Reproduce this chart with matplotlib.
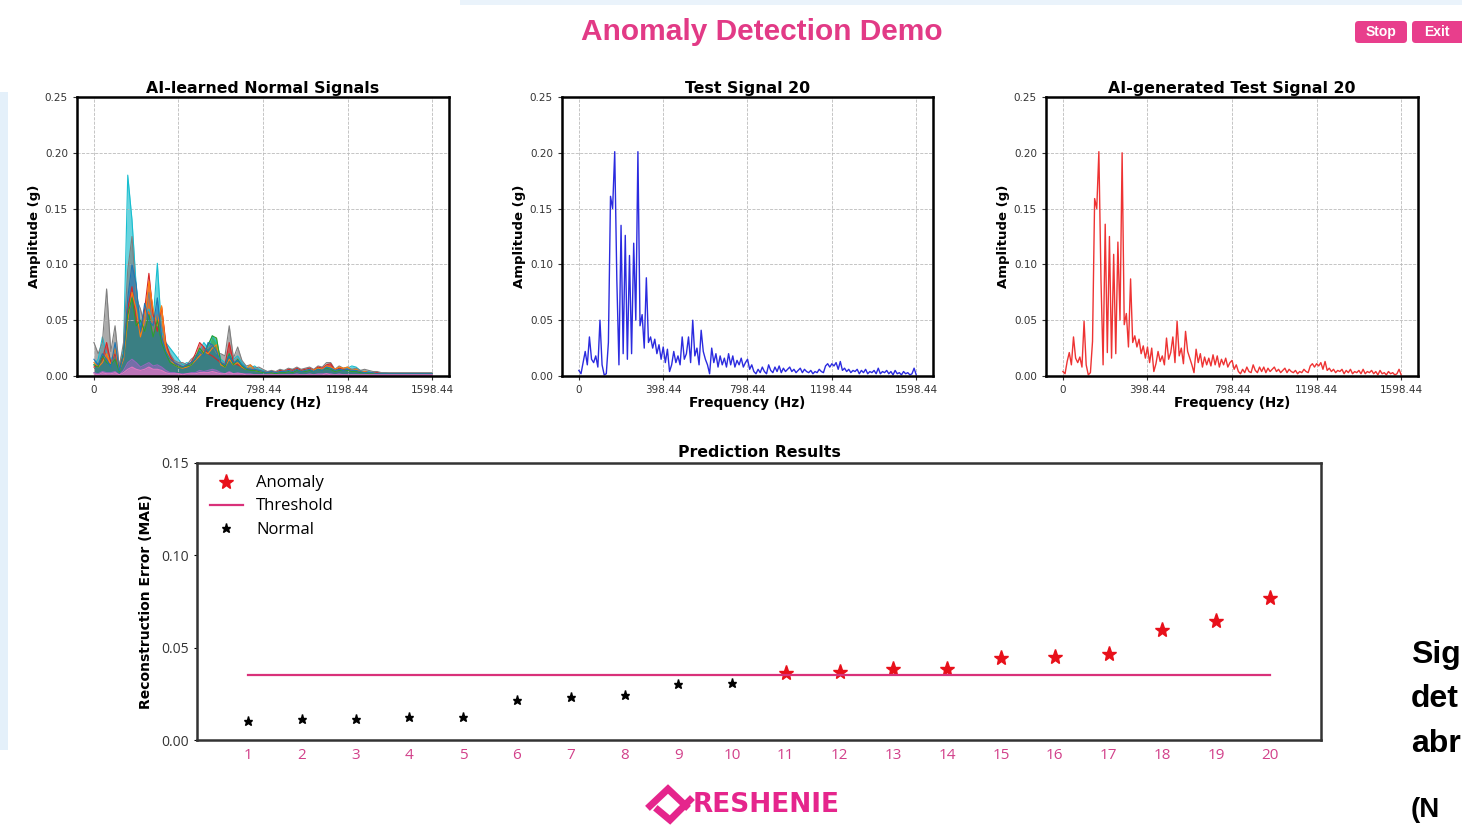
import numpy as np
import matplotlib
matplotlib.use('Agg')
import matplotlib.pyplot as plt
from matplotlib.patches import Rectangle, FancyBboxPatch
from matplotlib.lines import Line2D

plt.rcParams['font.family'] = 'DejaVu Sans'

# ---- data ----
freq_ticks = [0, 398.44, 798.44, 1198.44, 1598.44]
freq_tick_labels = ['0', '398.44', '798.44', '1198.44', '1598.44']

# test signal 20 (10 Hz grid, 0..1600)
test_amp = [
    0.005, 0.002, 0.012, 0.022, 0.010, 0.035, 0.015, 0.012, 0.018, 0.008,
    0.050, 0.010, 0.001, 0.002, 0.030, 0.161, 0.150, 0.201, 0.086, 0.010,
    0.135, 0.020, 0.126, 0.015, 0.108, 0.020, 0.119, 0.050, 0.201, 0.045,
    0.055, 0.025, 0.088, 0.030, 0.035, 0.025, 0.033, 0.020, 0.028, 0.015,
    0.026, 0.012, 0.024, 0.004, 0.010, 0.022, 0.012, 0.018, 0.010, 0.035,
    0.015, 0.020, 0.035, 0.012, 0.050, 0.018, 0.025, 0.010, 0.041, 0.022,
    0.015, 0.010, 0.002, 0.025, 0.012, 0.020, 0.008, 0.018, 0.010, 0.016,
    0.008, 0.020, 0.010, 0.018, 0.008, 0.014, 0.010, 0.016, 0.008, 0.012,
    0.015, 0.006, 0.010, 0.004, 0.002, 0.006, 0.003, 0.008, 0.004, 0.002,
    0.010, 0.005, 0.003, 0.008, 0.004, 0.009, 0.003, 0.007, 0.004, 0.006,
    0.008, 0.004, 0.006, 0.003, 0.005, 0.007, 0.003, 0.006, 0.004, 0.003,
    0.005, 0.002, 0.004, 0.003, 0.006, 0.004, 0.003, 0.009, 0.011, 0.008,
    0.011, 0.009, 0.012, 0.006, 0.013, 0.005, 0.007, 0.004, 0.006, 0.003,
    0.005, 0.004, 0.006, 0.002, 0.005, 0.003, 0.006, 0.002, 0.004, 0.003,
    0.005, 0.002, 0.007, 0.002, 0.004, 0.003, 0.005, 0.002, 0.004, 0.001,
    0.005, 0.002, 0.003, 0.001, 0.004, 0.002, 0.003, 0.001, 0.002, 0.007,
    0.001]

# AI-generated test signal 20 (10 Hz grid)
gen_amp = [
    0.004, 0.002, 0.013, 0.021, 0.010, 0.035, 0.016, 0.012, 0.017, 0.008,
    0.049, 0.010, 0.001, 0.003, 0.031, 0.159, 0.150, 0.201, 0.086, 0.010,
    0.136, 0.021, 0.125, 0.016, 0.109, 0.020, 0.120, 0.050, 0.200, 0.046,
    0.056, 0.026, 0.087, 0.030, 0.036, 0.026, 0.033, 0.020, 0.027, 0.016,
    0.026, 0.012, 0.025, 0.004, 0.011, 0.022, 0.013, 0.018, 0.010, 0.034,
    0.015, 0.021, 0.035, 0.012, 0.049, 0.018, 0.025, 0.011, 0.040, 0.022,
    0.016, 0.010, 0.003, 0.024, 0.012, 0.020, 0.008, 0.017, 0.010, 0.016,
    0.009, 0.019, 0.010, 0.018, 0.008, 0.015, 0.010, 0.016, 0.008, 0.012,
    0.014, 0.006, 0.010, 0.004, 0.002, 0.006, 0.003, 0.008, 0.004, 0.003,
    0.010, 0.005, 0.003, 0.008, 0.004, 0.008, 0.003, 0.007, 0.004, 0.006,
    0.008, 0.004, 0.006, 0.003, 0.005, 0.007, 0.003, 0.006, 0.004, 0.003,
    0.005, 0.002, 0.004, 0.003, 0.006, 0.004, 0.003, 0.009, 0.011, 0.008,
    0.011, 0.009, 0.012, 0.006, 0.013, 0.005, 0.007, 0.004, 0.006, 0.003,
    0.005, 0.004, 0.006, 0.002, 0.005, 0.003, 0.006, 0.002, 0.004, 0.003,
    0.005, 0.002, 0.006, 0.002, 0.004, 0.003, 0.005, 0.002, 0.004, 0.001,
    0.005, 0.002, 0.003, 0.001, 0.004, 0.002, 0.003, 0.001, 0.002, 0.006,
    0.001]

# learned normal signals (20 Hz grid, 0..1600), a few representative traces
normal_cyan = [
    0.010, 0.015, 0.035, 0.020, 0.015, 0.020, 0.010, 0.025, 0.180, 0.140,
    0.080, 0.045, 0.055, 0.060, 0.050, 0.101, 0.040, 0.030, 0.025, 0.020,
    0.015, 0.010, 0.012, 0.010, 0.018, 0.022, 0.030, 0.025, 0.036, 0.030,
    0.015, 0.012, 0.020, 0.015, 0.018, 0.012, 0.008, 0.007, 0.009, 0.006,
    0.005, 0.004, 0.004, 0.003, 0.004, 0.005, 0.004, 0.006, 0.005, 0.005,
    0.006, 0.005, 0.005, 0.007, 0.006, 0.008, 0.007, 0.005, 0.006, 0.006,
    0.007, 0.009, 0.008, 0.005, 0.004, 0.004, 0.003, 0.003, 0.003, 0.003,
    0.002, 0.002, 0.002, 0.002, 0.002, 0.002, 0.002, 0.002, 0.002, 0.002,
    0.002]
normal_gray = [
    0.030, 0.020, 0.030, 0.078, 0.022, 0.045, 0.008, 0.030, 0.095, 0.125,
    0.070, 0.060, 0.045, 0.075, 0.040, 0.055, 0.045, 0.028, 0.020, 0.014,
    0.012, 0.012, 0.010, 0.015, 0.018, 0.020, 0.024, 0.025, 0.028, 0.020,
    0.020, 0.018, 0.045, 0.016, 0.026, 0.014, 0.009, 0.010, 0.007, 0.008,
    0.006, 0.004, 0.005, 0.004, 0.006, 0.005, 0.007, 0.006, 0.008, 0.006,
    0.007, 0.008, 0.006, 0.009, 0.008, 0.012, 0.012, 0.006, 0.009, 0.007,
    0.008, 0.006, 0.007, 0.005, 0.006, 0.005, 0.004, 0.004, 0.003, 0.003,
    0.003, 0.003, 0.003, 0.003, 0.003, 0.003, 0.003, 0.003, 0.003, 0.003,
    0.003]
normal_blue = [
    0.015, 0.010, 0.020, 0.015, 0.008, 0.030, 0.005, 0.018, 0.070, 0.100,
    0.082, 0.040, 0.065, 0.050, 0.045, 0.070, 0.035, 0.022, 0.015, 0.012,
    0.010, 0.008, 0.010, 0.012, 0.015, 0.022, 0.018, 0.030, 0.028, 0.022,
    0.012, 0.010, 0.018, 0.012, 0.014, 0.010, 0.007, 0.006, 0.006, 0.005,
    0.004, 0.003, 0.004, 0.003, 0.004, 0.004, 0.005, 0.004, 0.006, 0.004,
    0.005, 0.006, 0.004, 0.006, 0.005, 0.008, 0.007, 0.005, 0.006, 0.005,
    0.006, 0.005, 0.005, 0.004, 0.003, 0.003, 0.003, 0.002, 0.002, 0.002,
    0.002, 0.002, 0.002, 0.002, 0.002, 0.002, 0.002, 0.002, 0.002, 0.002,
    0.002]
normal_red = [
    0.008, 0.010, 0.015, 0.030, 0.012, 0.020, 0.006, 0.020, 0.060, 0.080,
    0.050, 0.040, 0.060, 0.092, 0.055, 0.040, 0.062, 0.030, 0.018, 0.012,
    0.010, 0.008, 0.010, 0.012, 0.020, 0.030, 0.026, 0.020, 0.018, 0.015,
    0.012, 0.010, 0.030, 0.012, 0.010, 0.008, 0.006, 0.006, 0.005, 0.005,
    0.004, 0.003, 0.004, 0.003, 0.005, 0.004, 0.006, 0.005, 0.007, 0.005,
    0.006, 0.007, 0.005, 0.008, 0.007, 0.010, 0.011, 0.005, 0.007, 0.006,
    0.006, 0.005, 0.005, 0.004, 0.004, 0.003, 0.003, 0.003, 0.002, 0.002,
    0.002, 0.002, 0.002, 0.002, 0.002, 0.002, 0.002, 0.002, 0.002, 0.002,
    0.002]
normal_orange = [
    0.012, 0.008, 0.012, 0.020, 0.010, 0.025, 0.005, 0.015, 0.050, 0.075,
    0.060, 0.035, 0.050, 0.085, 0.060, 0.045, 0.063, 0.025, 0.015, 0.010,
    0.008, 0.007, 0.008, 0.010, 0.014, 0.018, 0.022, 0.020, 0.025, 0.028,
    0.010, 0.008, 0.015, 0.010, 0.012, 0.008, 0.006, 0.010, 0.005, 0.004,
    0.004, 0.003, 0.003, 0.003, 0.004, 0.004, 0.005, 0.004, 0.006, 0.004,
    0.005, 0.006, 0.005, 0.007, 0.006, 0.009, 0.008, 0.006, 0.008, 0.007,
    0.008, 0.005, 0.006, 0.004, 0.004, 0.003, 0.003, 0.002, 0.002, 0.002,
    0.002, 0.002, 0.002, 0.002, 0.002, 0.002, 0.002, 0.002, 0.002, 0.002,
    0.002]
normal_green = [
    0.010, 0.008, 0.018, 0.012, 0.010, 0.015, 0.004, 0.020, 0.055, 0.070,
    0.045, 0.050, 0.040, 0.055, 0.035, 0.050, 0.030, 0.020, 0.012, 0.010,
    0.008, 0.008, 0.009, 0.010, 0.016, 0.025, 0.020, 0.028, 0.036, 0.034,
    0.012, 0.008, 0.020, 0.010, 0.015, 0.009, 0.006, 0.005, 0.005, 0.004,
    0.003, 0.003, 0.003, 0.002, 0.003, 0.003, 0.004, 0.003, 0.005, 0.004,
    0.004, 0.005, 0.004, 0.006, 0.005, 0.007, 0.006, 0.004, 0.005, 0.005,
    0.005, 0.004, 0.004, 0.003, 0.003, 0.002, 0.002, 0.002, 0.002, 0.002,
    0.002, 0.002, 0.002, 0.002, 0.002, 0.002, 0.002, 0.002, 0.002, 0.002,
    0.002]
normal_purple = [
    0.003, 0.002, 0.004, 0.003, 0.003, 0.004, 0.001, 0.005, 0.012, 0.015,
    0.012, 0.008, 0.010, 0.012, 0.009, 0.010, 0.008, 0.005, 0.003, 0.003,
    0.002, 0.002, 0.002, 0.003, 0.003, 0.005, 0.004, 0.005, 0.006, 0.005,
    0.003, 0.002, 0.004, 0.002, 0.003, 0.002, 0.002, 0.002, 0.001, 0.001,
    0.001, 0.001, 0.001, 0.001, 0.001, 0.001, 0.001, 0.001, 0.002, 0.001,
    0.001, 0.002, 0.001, 0.002, 0.002, 0.002, 0.002, 0.001, 0.002, 0.001,
    0.001, 0.001, 0.001, 0.001, 0.001, 0.001, 0.001, 0.001, 0.001, 0.001,
    0.001, 0.001, 0.001, 0.001, 0.001, 0.001, 0.001, 0.001, 0.001, 0.001,
    0.001]
normal_pink = [
    0.002, 0.001, 0.003, 0.002, 0.002, 0.003, 0.001, 0.003, 0.006, 0.008,
    0.006, 0.005, 0.006, 0.008, 0.006, 0.006, 0.005, 0.003, 0.002, 0.002,
    0.002, 0.001, 0.002, 0.002, 0.002, 0.003, 0.003, 0.003, 0.004, 0.003,
    0.002, 0.002, 0.003, 0.002, 0.002, 0.002, 0.001, 0.001, 0.001, 0.001,
    0.001, 0.001, 0.001, 0.001, 0.001, 0.001, 0.001, 0.001, 0.001, 0.001,
    0.001, 0.001, 0.001, 0.001, 0.001, 0.002, 0.001, 0.001, 0.001, 0.001,
    0.001, 0.001, 0.001, 0.001, 0.001, 0.001, 0.001, 0.001, 0.001, 0.001,
    0.001, 0.001, 0.001, 0.001, 0.001, 0.001, 0.001, 0.001, 0.001, 0.001,
    0.001]
normal_traces = [
    (normal_cyan, '#17becf'),
    (normal_gray, '#7f7f7f'),
    (normal_red, '#d62728'),
    (normal_orange, '#ff7f0e'),
    (normal_green, '#2ca02c'),
    (normal_blue, '#1f77b4'),
    (normal_purple, '#9467bd'),
    (normal_pink, '#e377c2'),
]

# prediction results
signal_ids = list(range(1, 21))
mae = [0.0105, 0.0112, 0.0113, 0.0122, 0.0124, 0.0217, 0.0232, 0.0245, 0.0302, 0.0311,
       0.0364, 0.0369, 0.0383, 0.0385, 0.0442, 0.0452, 0.0464, 0.0597, 0.0646, 0.0771]
threshold = 0.035

PINK = '#e23a86'

fig = plt.figure(figsize=(14.62, 8.26), dpi=100)
W, H = 1462.0, 826.0


def fx(x):
    return x / W


def fy(y):
    return 1 - y / H


# screenshot edge tint
fig.patches.append(Rectangle((0, fy(750)), fx(8), (750 - 92) / H, transform=fig.transFigure,
                             fc='#e4f0fa', ec='none', zorder=0))
fig.patches.append(Rectangle((fx(460), fy(5)), 1, 5 / H, transform=fig.transFigure,
                             fc='#eaf3fb', ec='none', zorder=0))


def style_spectrum(ax, title):
    ax.set_xlim(-80, 1678)
    ax.set_ylim(0, 0.25)
    ax.set_xticks(freq_ticks)
    ax.set_xticklabels(freq_tick_labels)
    ax.set_yticks([0, 0.05, 0.10, 0.15, 0.20, 0.25])
    ax.set_yticklabels(['0.00', '0.05', '0.10', '0.15', '0.20', '0.25'])
    ax.tick_params(labelsize=7.5, length=3, width=0.8, colors='#333333')
    ax.grid(True, linestyle='--', linewidth=0.6, color='#bbbbbb')
    for s in ax.spines.values():
        s.set_linewidth(1.8)
        s.set_color('black')
    ax.set_title(title, fontsize=11.3, fontweight='bold', pad=3)
    ax.set_xlabel('Frequency (Hz)', fontsize=9.8, fontweight='bold', labelpad=1)
    ax.set_ylabel('Amplitude (g)', fontsize=9.5, fontweight='bold', labelpad=3)


# panel 1: learned normal signals
ax1 = fig.add_axes([fx(77), fy(376), 372 / W, 279 / H])
f_norm = np.linspace(0, 1598.44, len(normal_cyan))
for trace, col in normal_traces:
    ax1.fill_between(f_norm, 0, trace, color=col, alpha=0.65, linewidth=0)
    ax1.plot(f_norm, trace, color=col, linewidth=0.8)
style_spectrum(ax1, 'AI-learned Normal Signals')

# panel 2: test signal
ax2 = fig.add_axes([fx(562), fy(376), 371 / W, 279 / H])
f_test = np.linspace(0, 1598.44, len(test_amp))
ax2.plot(f_test, test_amp, color='#2b2bdf', linewidth=1.0)
style_spectrum(ax2, 'Test Signal 20')

# panel 3: generated signal
ax3 = fig.add_axes([fx(1046), fy(376), 372 / W, 279 / H])
f_gen = np.linspace(0, 1598.44, len(gen_amp))
ax3.plot(f_gen, gen_amp, color='#ee3333', linewidth=1.0)
style_spectrum(ax3, 'AI-generated Test Signal 20')

# bottom: prediction results
ax4 = fig.add_axes([fx(197), fy(740), 1124 / W, 277 / H])
ids = np.array(signal_ids)
err = np.array(mae)
anom = err > threshold
ax4.plot(ids[anom], err[anom], linestyle='none', marker='*', markersize=11,
         color='#e8101a', label='Anomaly')
ax4.plot([ids[0], ids[-1]], [threshold, threshold], color='#d9317a', linewidth=1.6,
         label='Threshold')
ax4.plot(ids[~anom], err[~anom], linestyle='none', marker='*', markersize=6.5,
         color='black', label='Normal')
ax4.set_xlim(0.05, 20.95)
ax4.set_ylim(0, 0.15)
ax4.set_xticks(signal_ids)
ax4.set_xticklabels([str(i) for i in signal_ids], fontfamily='Open Sans', fontsize=11,
                    color='#d2408a')
ax4.set_yticks([0, 0.05, 0.10, 0.15])
ax4.set_yticklabels(['0.00', '0.05', '0.10', '0.15'], fontfamily='Open Sans', fontsize=10,
                    color='#333333')
ax4.tick_params(axis='x', length=0, pad=6)
ax4.tick_params(axis='y', length=2, width=0.8)
for s in ax4.spines.values():
    s.set_linewidth(1.8)
    s.set_color('#333333')
ax4.set_title('Prediction Results', fontsize=11.3, fontweight='bold', pad=4)
ax4.set_ylabel('Reconstruction Error (MAE)', fontsize=10, fontweight='bold', labelpad=6)
ax4.legend(loc='upper left', frameon=False, prop={'family': 'Open Sans', 'size': 12},
           handlelength=2.0, borderaxespad=0.35, labelspacing=0.42, handletextpad=0.8)

# header
fig.text(fx(762), fy(32), 'Anomaly Detection Demo', ha='center', va='center',
         fontsize=21.5, fontweight='bold', color=PINK, family='Liberation Sans')
for x0, x1, label in [(1355, 1407, 'Stop'), (1412, 1466, 'Exit')]:
    fig.patches.append(FancyBboxPatch((fx(x0), fy(43)), (x1 - x0) / W, 22 / H,
                                      boxstyle='round,pad=0,rounding_size=0.0025',
                                      mutation_aspect=W / H, transform=fig.transFigure,
                                      fc='#e83e8c', ec='none'))
    fig.text(fx((x0 + min(x1, 1462)) / 2), fy(32), label, ha='center', va='center',
             fontsize=10, fontweight='bold', color='white', family='Liberation Sans')

# side text (only the part visible at the screenshot edge)
fig.text(fx(1411), fy(640), 'Sig\ndet\nabr', ha='left', va='top',
         fontsize=23, fontweight='bold', family='Liberation Sans', linespacing=1.62)
fig.text(fx(1411), fy(797), '(N', ha='left', va='top',
         fontsize=20, fontweight='bold', family='Liberation Sans')

# logo
fig.lines.append(Line2D([fx(650), fx(668), fx(686)], [fy(806), fy(789), fy(806)],
                        transform=fig.transFigure, color='#e5258c', linewidth=5,
                        solid_joinstyle='miter'))
fig.lines.append(Line2D([fx(658), fx(670), fx(690)], [fy(810), fy(820), fy(800)],
                        transform=fig.transFigure, color='#e5258c', linewidth=5,
                        solid_joinstyle='miter'))
fig.text(fx(693), fy(805), 'RESHENIE', ha='left', va='center', fontsize=19,
         fontweight='bold', color='#e5258c', family='DejaVu Sans')

fig.savefig('out.png', dpi=100)
